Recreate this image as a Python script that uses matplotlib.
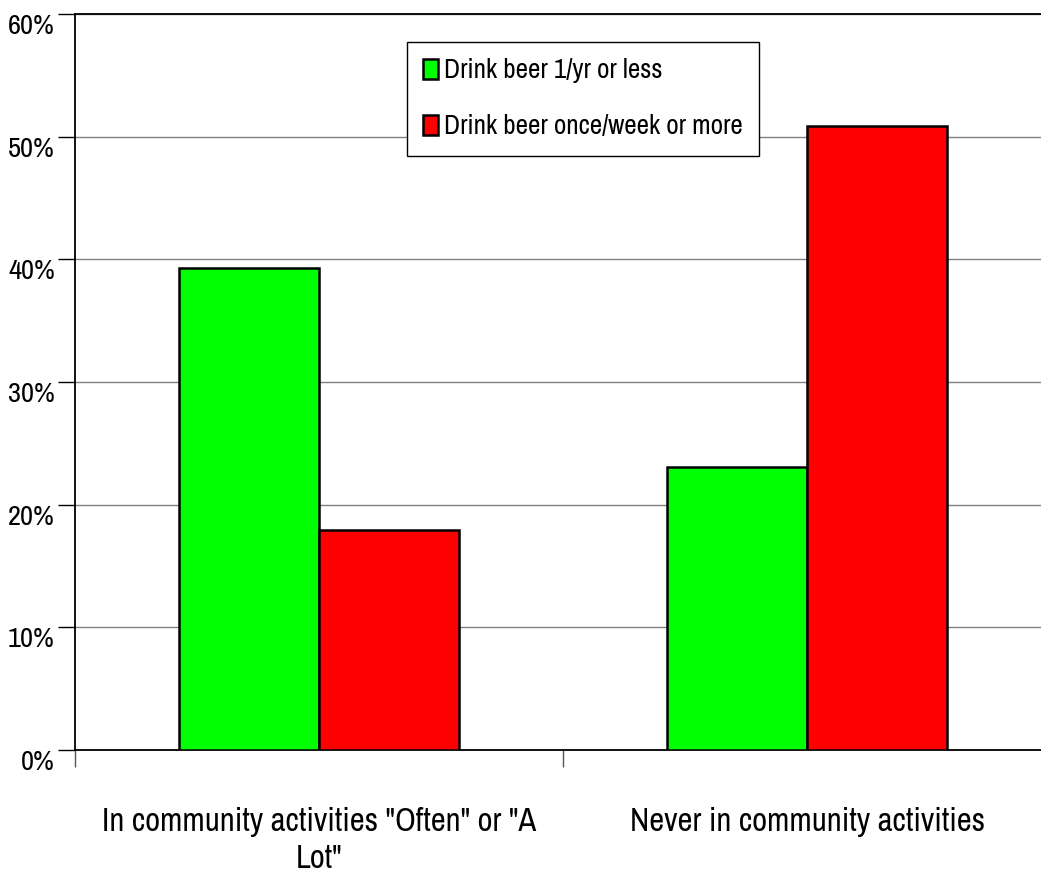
import numpy as np
import matplotlib.pyplot as plt
from matplotlib.ticker import FixedLocator, PercentFormatter

plt.rcParams['font.family'] = ['Archivo Narrow', 'Roboto Condensed', 'DejaVu Sans']

# data (percent)
categories = ['In community activities "Often" or "A\nLot"', 'Never in community activities']
series_names = ['Drink beer 1/yr or less', 'Drink beer once/week or more']
beer_rarely = [39.3, 23.1]
beer_weekly = [17.9, 50.9]
colors = ['#00ff00', '#ff0000']

fig = plt.figure(figsize=(10.41, 8.82), dpi=100)
# axes runs a little past the right edge, like the original
ax = fig.add_axes([75 / 1041, 132 / 882, 976 / 1041, 736 / 882])

x = np.arange(len(categories))
w = 0.287
ax.bar(x - w / 2, beer_rarely, w, color=colors[0], edgecolor='black', linewidth=1.8,
       label=series_names[0], zorder=3)
ax.bar(x + w / 2, beer_weekly, w, color=colors[1], edgecolor='black', linewidth=1.8,
       label=series_names[1], zorder=3)

ax.set_xlim(-0.5, 1.5)
ax.set_ylim(0, 60)
ax.set_yticks(np.arange(0, 61, 10))
ax.yaxis.set_major_formatter(PercentFormatter(decimals=0))
ax.grid(axis='y', color='#808080', linewidth=1, zorder=0)

ax.set_xticks(x)
ax.set_xticklabels(categories, fontsize=23.5, linespacing=1.28)
ax.tick_params(axis='x', which='major', length=0, pad=41)
ax.xaxis.set_minor_locator(FixedLocator([-0.5, 0.5, 1.5]))
ax.tick_params(axis='x', which='minor', length=12, width=1, color='#555555')
ax.tick_params(axis='y', length=12, width=1, labelsize=20.5, pad=2.5)
for lab in ax.get_yticklabels():
    lab.set_va('top')

ax.spines['right'].set_visible(False)
for s in ['top', 'left', 'bottom']:
    ax.spines[s].set_linewidth(1.3)

leg = ax.legend(loc='upper left', bbox_to_anchor=(332 / 976, 1 - 28 / 736), fontsize=19.5,
                frameon=True, fancybox=False, edgecolor='black', framealpha=1,
                handlelength=0.55, handleheight=0.77, handletextpad=0.2,
                borderpad=0.6, labelspacing=1.15, borderaxespad=0)
leg.get_frame().set_linewidth(1)

fig.savefig('out.png', dpi=100)
